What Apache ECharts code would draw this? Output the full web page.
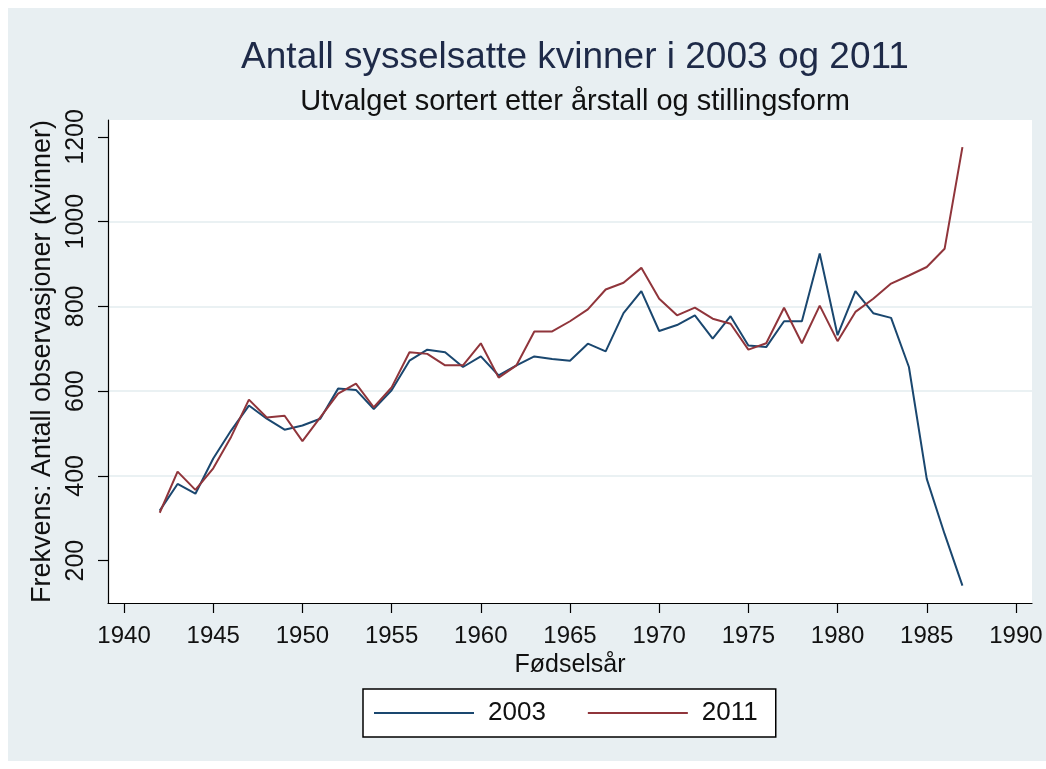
<!DOCTYPE html>
<html>
<head>
<meta charset="utf-8">
<title>Antall sysselsatte kvinner i 2003 og 2011</title>
<script src="https://cdn.jsdelivr.net/npm/echarts@6/dist/echarts.min.js"></script>
<style>
  html, body { margin: 0; padding: 0; background: #fff; }
  #chart { width: 1046px; height: 769px; }
</style>
</head>
<body>
<div id="chart"></div>
<script>
// birth years on the x axis
const years = [1942, 1943, 1944, 1945, 1946, 1947, 1948, 1949, 1950, 1951,
  1952, 1953, 1954, 1955, 1956, 1957, 1958, 1959, 1960, 1961,
  1962, 1963, 1964, 1965, 1966, 1967, 1968, 1969, 1970, 1971,
  1972, 1973, 1974, 1975, 1976, 1977, 1978, 1979, 1980, 1981,
  1982, 1983, 1984, 1985, 1986, 1987];

// number of employed women
const women2003 = [318, 381, 358, 441, 507, 566, 535, 509, 519, 535,
  606, 603, 558, 602, 672, 698, 692, 657, 682, 637,
  661, 682, 676, 672, 712, 694, 784, 836, 742, 756,
  779, 724, 777, 708, 704, 765, 765, 925, 732, 836,
  784, 773, 657, 393, 263, 141];

const women2011 = [313, 410, 367, 418, 492, 580, 538, 542, 482, 538,
  594, 618, 562, 609, 692, 688, 661, 661, 713, 632,
  661, 741, 741, 765, 793, 840, 856, 891, 818, 779,
  797, 771, 759, 698, 713, 797, 713, 802, 718, 787,
  818, 854, 873, 893, 936, 1176];

const xTicks = [1940, 1945, 1950, 1955, 1960, 1965, 1970, 1975, 1980, 1985, 1990];
const yTicks = [200, 400, 600, 800, 1000, 1200];

const font = "'Liberation Sans', Arial, sans-serif";

const chart = echarts.init(document.getElementById('chart'));

const toPairs = (vals) => years.map((y, i) => [y, vals[i]]);

const option = {
  animation: false,
  backgroundColor: '#fff',
  graphic: [{
    type: 'rect',
    z: -10,
    shape: { x: 8, y: 8, width: 1038, height: 753 },
    style: { fill: '#e8eff2' },
    silent: true
  }],
  title: [
    {
      text: 'Antall sysselsatte kvinner i 2003 og 2011',
      left: 570,
      top: 34,
      textAlign: 'center',
      textStyle: { fontFamily: font, fontSize: 37, fontWeight: 'normal', color: '#1e2a48' }
    },
    {
      text: 'Utvalget sortert etter årstall og stillingsform',
      left: 570,
      top: 82,
      textAlign: 'center',
      textStyle: { fontFamily: font, fontSize: 29, fontWeight: 'normal', color: '#111' }
    }
  ],
  legend: {
    left: 363,
    top: 689,
    orient: 'horizontal',
    backgroundColor: '#fff',
    borderColor: '#000',
    borderWidth: 1.5,
    borderRadius: 0,
    padding: [11, 18, 11, 11],
    itemWidth: 100,
    itemHeight: 2,
    itemGap: 42,
    icon: 'rect',
    textStyle: { fontFamily: font, fontSize: 26, color: '#111', padding: [0, 0, 0, 9] },
    data: ['2003', '2011']
  },
  grid: {
    left: 108,
    right: 14,
    top: 120,
    bottom: 166,
    show: true,
    backgroundColor: '#fff',
    borderWidth: 0
  },
  xAxis: {
    type: 'value',
    min: 1939.1,
    max: 1990.9,
    name: 'Fødselsår',
    nameLocation: 'middle',
    nameGap: 45,
    nameTextStyle: { fontFamily: font, fontSize: 25, color: '#111' },
    axisLine: { show: true, onZero: false, lineStyle: { color: '#000', width: 1.2 } },
    axisTick: { show: true, length: 10, customValues: xTicks, lineStyle: { color: '#000', width: 1.2 } },
    axisLabel: {
      customValues: xTicks, margin: 21, fontFamily: font, fontSize: 24, color: '#111',
      formatter: (v) => String(v)
    },
    splitLine: { show: false }
  },
  yAxis: {
    type: 'value',
    min: 100,
    max: 1240,
    name: 'Frekvens: Antall observasjoner (kvinner)',
    nameLocation: 'middle',
    nameGap: 51,
    nameTextStyle: { fontFamily: font, fontSize: 27, color: '#111' },
    axisLine: { show: true, lineStyle: { color: '#000', width: 1.2 } },
    axisTick: { show: true, length: 10, customValues: yTicks, lineStyle: { color: '#000', width: 1.2 } },
    axisLabel: {
      customValues: yTicks, rotate: 90, margin: 19, fontFamily: font, fontSize: 25, color: '#111',
      formatter: (v) => String(v)
    },
    splitLine: { show: true, showMinLine: false, showMaxLine: false, lineStyle: { color: '#e3ecef', width: 1.5 } }
  },
  series: [
    {
      name: '2003',
      type: 'line',
      data: toPairs(women2003),
      symbol: 'none',
      lineStyle: { color: '#1a476f', width: 2 },
      itemStyle: { color: '#1a476f' }
    },
    {
      name: '2011',
      type: 'line',
      data: toPairs(women2011),
      symbol: 'none',
      lineStyle: { color: '#90353b', width: 2 },
      itemStyle: { color: '#90353b' }
    }
  ]
};

option && chart.setOption(option);
</script>
</body>
</html>
